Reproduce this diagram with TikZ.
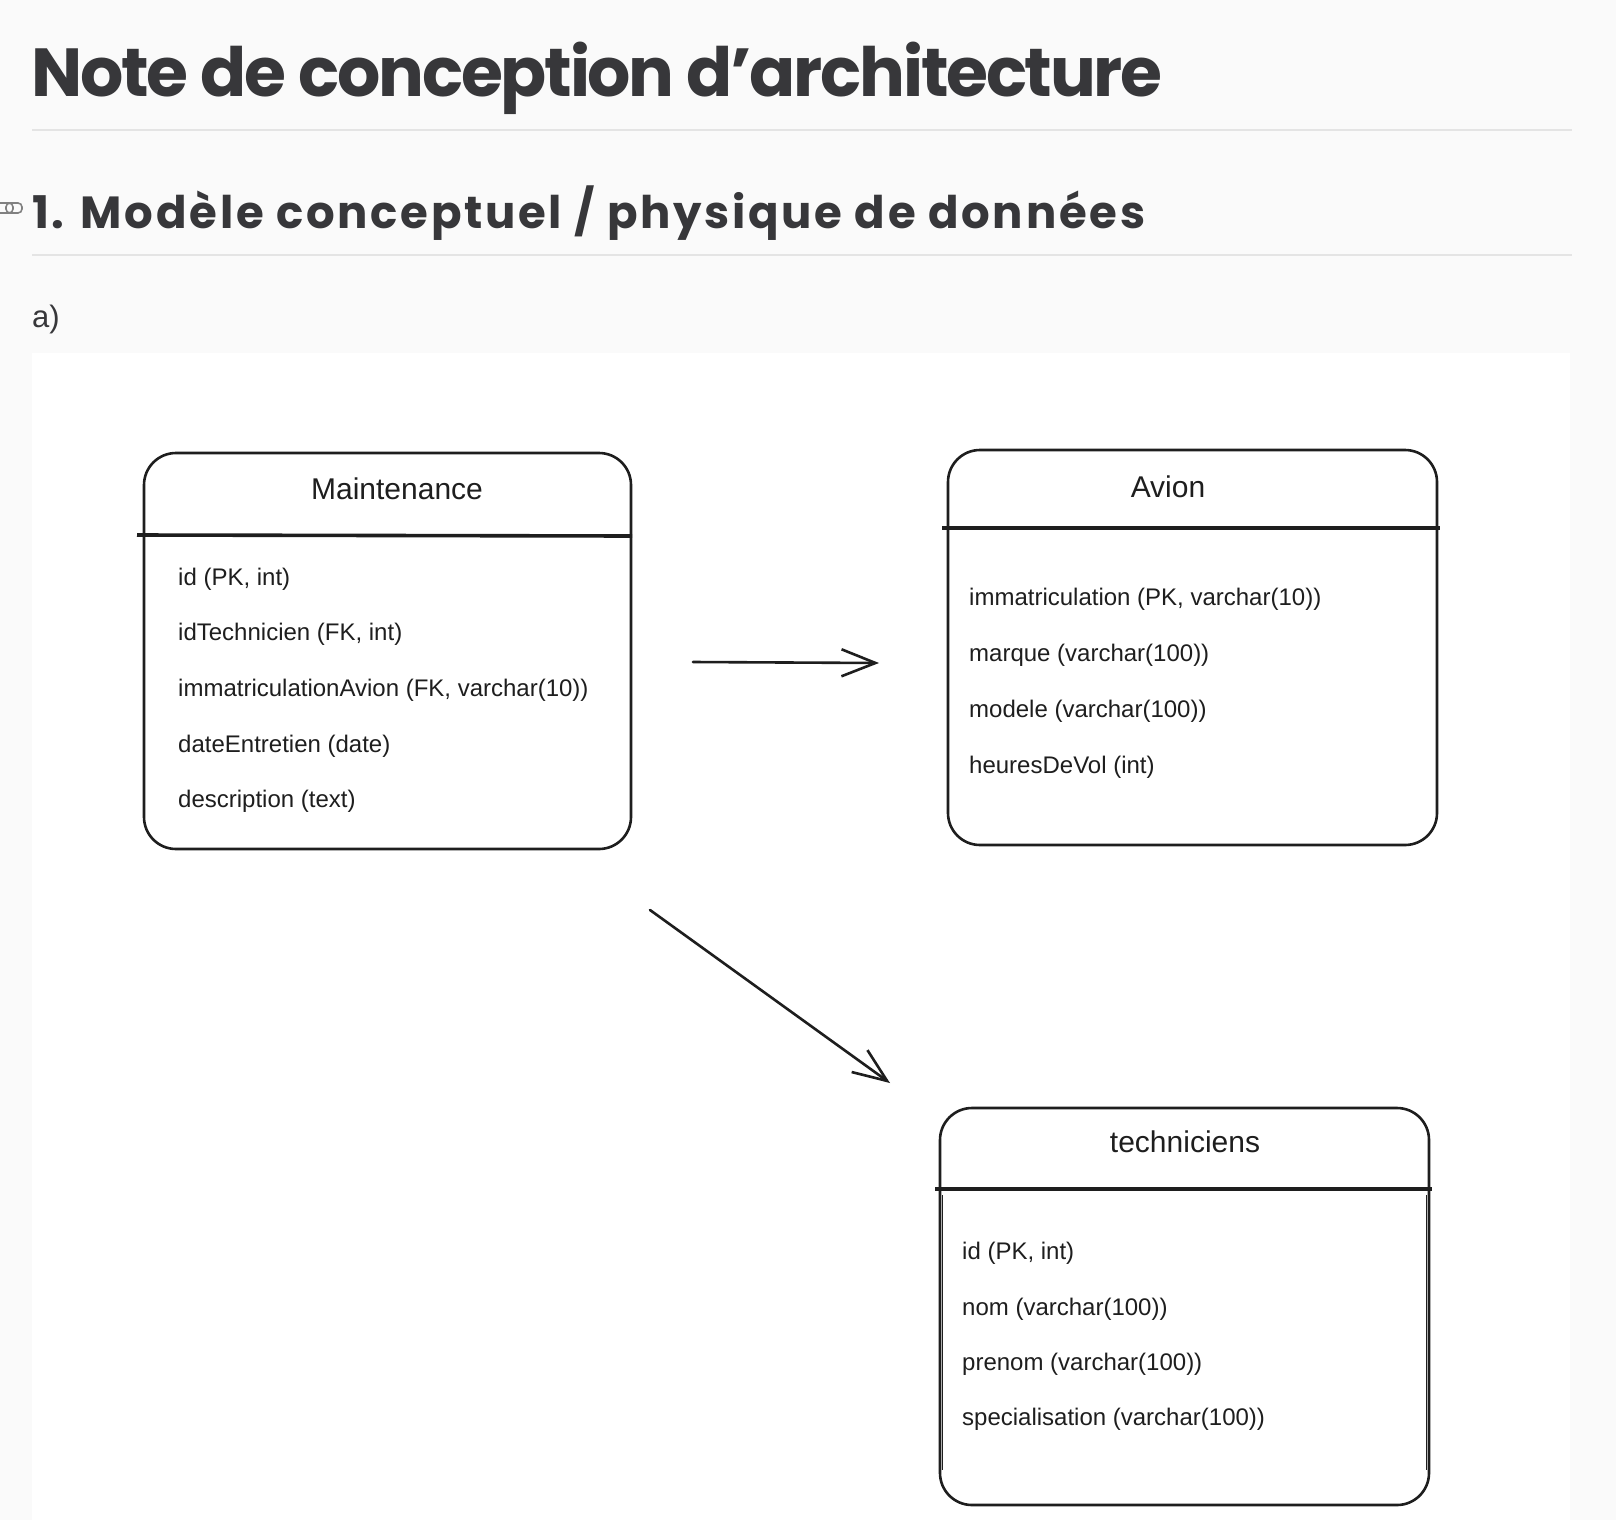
\documentclass[tikz,border=0pt]{standalone}
\usepackage{fontspec}
\setmainfont{Liberation Sans}
\newfontfamily\headfont{Poppins}[LetterSpace=-3.3]
\newfontfamily\secfont{Poppins}[LetterSpace=6.1]
\usetikzlibrary{arrows.meta}
\definecolor{ink}{HTML}{1E1E1E}
\definecolor{headink}{HTML}{37373A}
\definecolor{pagebg}{HTML}{FAFAFA}
\definecolor{rulec}{HTML}{E4E4E4}
\tikzset{
  tbl/.style={draw=ink, line width=2.6pt, rounded corners=32pt, fill=white, inner sep=0pt},
  hdr/.style={draw=ink, line width=3.6pt},
  ttl/.style={font=\fontsize{30}{35}\selectfont, text=ink, anchor=base, inner sep=0pt},
  fld/.style={font=\fontsize{24}{28}\selectfont, text=ink, anchor=base west, inner sep=0pt},
  conn/.style={draw=ink, line width=2.6pt, line cap=round, -{Straight Barb[length=34pt,width=27pt]}},
  hrule/.style={draw=rulec, line width=2pt},
}
\begin{document}
\begin{tikzpicture}[x=1pt,y=-1pt]
\useasboundingbox (0,0) rectangle (1616,1520);
\fill[pagebg] (0,0) rectangle (1616,1520);
\fill[white] (32,353) rectangle (1570,1520);

% headings
\node[anchor=base west, inner sep=0pt, text=headink, font=\headfont\bfseries\fontsize{68}{80}\selectfont] (title) at (31,96) {Note de conception d’architecture};
\draw[hrule] (32,130) -- (1572,130);
\node[anchor=base west, inner sep=0pt, text=headink, font=\secfont\bfseries\fontsize{45}{54}\selectfont] (sec) at (32,228) {1. Modèle conceptuel / physique de données};
\draw[hrule] (32,255) -- (1572,255);
\draw[gray, line width=1.6pt, rounded corners=4pt] (-10,203) rectangle (13,213);
\draw[gray, line width=1.6pt, rounded corners=4pt] (6,203) rectangle (22,213);
\node[anchor=base west, inner sep=0pt, text=headink, font=\fontsize{31}{36}\selectfont] (sub) at (32,327) {a)};

% Maintenance
\node[tbl, minimum width=487pt, minimum height=396pt] (maint) at (387.5,651) {};
\draw[hdr] (137,535) -- (632,536);
\node[ttl] (maintT) at (397,499) {Maintenance};
\node[fld] (m1) at (178,585) {id (PK, int)};
\node[fld] (m2) at (178,640) {idTechnicien (FK, int)};
\node[fld] (m3) at (178,696) {immatriculationAvion (FK, varchar(10))};
\node[fld] (m4) at (178,752) {dateEntretien (date)};
\node[fld] (m5) at (178,807) {description (text)};

% Avion
\node[tbl, minimum width=489pt, minimum height=395pt] (avion) at (1192.5,647.5) {};
\draw[hdr] (942,528) -- (1440,528);
\node[ttl] (avionT) at (1168,497) {Avion};
\node[fld] (a1) at (969,605) {immatriculation (PK, varchar(10))};
\node[fld] (a2) at (969,661) {marque (varchar(100))};
\node[fld] (a3) at (969,717) {modele (varchar(100))};
\node[fld] (a4) at (969,773) {heuresDeVol (int)};

% techniciens
\node[tbl, minimum width=489pt, minimum height=397pt] (tech) at (1184.5,1306.5) {};
\draw[ink, line width=1.2pt] (942.5,1195) -- (942.5,1470);
\draw[ink, line width=1.2pt] (1426.5,1195) -- (1426.5,1470);
\draw[hdr] (935,1189) -- (1432,1189);
\node[ttl] (techT) at (1185,1152) {techniciens};
\node[fld] (t1) at (962,1259) {id (PK, int)};
\node[fld] (t2) at (962,1315) {nom (varchar(100))};
\node[fld] (t3) at (962,1370) {prenom (varchar(100))};
\node[fld] (t4) at (962,1425) {specialisation (varchar(100))};

% connectors
\coordinate (c1s) at (693,662);
\coordinate (c1e) at (879,663);
\coordinate (c2s) at (650,910);
\coordinate (c2e) at (890,1083);
\draw[conn] (c1s) -- (c1e);
\draw[conn] (c2s) -- (c2e);
\end{tikzpicture}
\end{document}
